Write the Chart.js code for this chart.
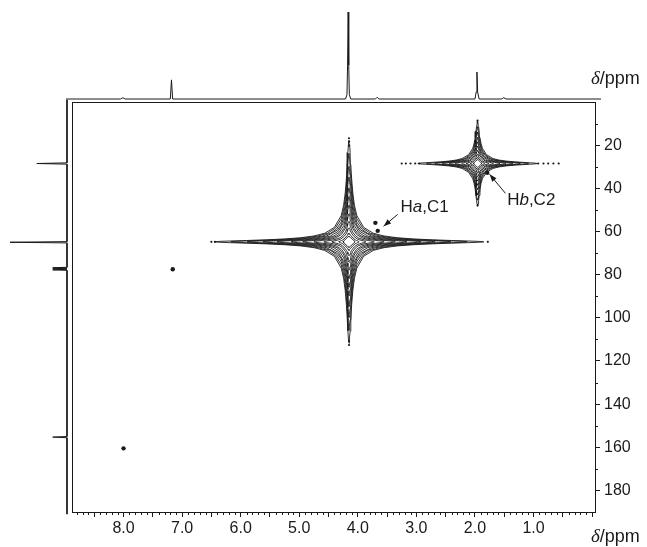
<!DOCTYPE html>
<html>
<head>
<meta charset="utf-8">
<script src="https://cdn.jsdelivr.net/npm/chart.js@4.4.1/dist/chart.umd.min.js"></script>
<style>
  body { margin: 0; background: #fff; }
  #wrap { position: relative; width: 647px; height: 547px; }
  #wrap canvas { position: absolute; left: 0; top: 0; }
</style>
</head>
<body>
<div id="wrap">
  <canvas id="main_canvas" width="647" height="547"></canvas>
  <canvas id="top_canvas" width="647" height="102"></canvas>
  <canvas id="left_canvas" width="72" height="547"></canvas>
</div>
<script>
// 1H projection (top): [ppm, relative intensity]
var proton_trace = [
  [8.97, 0], [8.04, 0], [8.0, 0.015], [7.96, 0],
  [7.19, 0], [7.17, 0.22], [7.15, 0],
  [4.20, 0], [4.175, 0.05], [4.165, 0.39], [4.155, 1.0], [4.145, 0.39], [4.135, 0.05], [4.11, 0],
  [3.69, 0], [3.66, 0.02], [3.63, 0],
  [1.99, 0], [1.97, 0.08], [1.957, 0.31], [1.945, 0.08], [1.92, 0],
  [1.54, 0], [1.50, 0.015], [1.46, 0], [-0.16, 0]
];
// 13C projection (left): [ppm, relative intensity]
var carbon_trace = [
  [-1, 0], [28.2, 0], [28.5, 0.53], [28.8, 0],
  [64.7, 0], [65.0, 1.0], [65.3, 0],
  [76.6, 0], [76.8, 0.25], [77.0, 0], [77.3, 0.25], [77.5, 0], [77.8, 0.25], [78.0, 0],
  [155.0, 0], [155.3, 0.25], [155.6, 0], [191, 0]
];

// cross peak H 4.15 / C 64.8: contour levels outer -> inner (half lengths in ppm)
var peak1_center = [4.15, 64.8];
var peak1_tipH = [2.30, 2.02, 1.74, 1.47, 1.23, 0.99, 0.79, 0.60, 0.43, 0.29, 0.17, 0.10];
var peak1_tipC = [47, 41, 35, 30, 25, 21, 17, 13, 9.5, 6.5, 4.0, 2.6];
var peak1_shoulderH = [0.25, 0.235, 0.215, 0.20, 0.182, 0.165, 0.145, 0.127, 0.107, 0.088, 0.067, 0.054];
var peak1_shoulderC = [6.7, 6.3, 5.9, 5.4, 4.9, 4.4, 4.0, 3.5, 2.9, 2.4, 1.8, 1.4];

// cross peak H 1.95 / C 28.5
var peak2_center = [1.955, 28.5];
var peak2_tipH = [1.02, 0.87, 0.73, 0.60, 0.48, 0.38, 0.27, 0.19, 0.12, 0.07];
var peak2_tipC = [19.5, 17, 14.5, 12, 10, 8, 6, 4.3, 2.8, 1.8];
var peak2_shoulderH = [0.152, 0.139, 0.130, 0.116, 0.104, 0.092, 0.078, 0.064, 0.050, 0.038];
var peak2_shoulderC = [4.1, 3.8, 3.6, 3.1, 2.9, 2.5, 2.2, 1.7, 1.4, 1.0];

// loose contour fragments and weak cross peaks
var fragment_dots = [
  [6.50, 64.8], [6.44, 64.8], [1.78, 64.8],
  [4.15, 16.8], [4.15, 18.4], [4.15, 20.2], [4.15, 110.6], [4.15, 112.6],
  [3.25, 28.5], [3.18, 28.5], [3.10, 28.5], [3.02, 28.5], [2.95, 28.5],
  [0.92, 28.5], [0.83, 28.5], [0.75, 28.5], [0.66, 28.5], [0.57, 28.5],
  [1.955, 8.6], [1.955, 48.0]
];
var weak_peaks = [[7.16, 77.5], [8.0, 160.5], [3.70, 56.0], [3.66, 59.7], [1.79, 32.8]];

var x_ticks = [0, 0.5, 1, 1.5, 2, 2.5, 3, 3.5, 4, 4.5, 5, 5.5, 6, 6.5, 7, 7.5, 8, 8.5];
var y_ticks = [20, 40, 60, 80, 100, 120, 140, 160, 180];

var FONT = "'Liberation Sans', Arial, sans-serif";
var INK = '#1a1a1a';
var ARM_STEPS = [0.96, 0.88, 0.76, 0.62, 0.48, 0.36, 0.26, 0.18];

// one quadrant of a star-shaped contour: from the H tip, along the arm, round the shoulder, up the C arm
function quadrant(hx, vy, sh, sc) {
  var q = [[hx, 0]];
  ARM_STEPS.forEach(function (f) {
    var d = f * hx;
    if (d > 1.4 * sh) q.push([d, sc * sh / d * Math.sqrt(1 - f * f)]);
  });
  q.push([sh, sc]);
  ARM_STEPS.slice().reverse().forEach(function (f) {
    var d = f * vy;
    if (d > 1.4 * sc) q.push([sh * sc / d * Math.sqrt(1 - f * f), d]);
  });
  q.push([0, vy]);
  return q;
}

function contour_sets(c, tipH, tipC, shH, shC) {
  var sets = [];
  for (var i = 0; i < tipH.length; i++) {
    var q = quadrant(tipH[i], tipC[i], shH[i], shC[i]);
    var pts = [];
    q.forEach(function (p) { pts.push([p[0], p[1]]); });
    q.slice().reverse().forEach(function (p) { pts.push([-p[0], p[1]]); });
    q.forEach(function (p) { pts.push([-p[0], -p[1]]); });
    q.slice().reverse().forEach(function (p) { pts.push([p[0], -p[1]]); });
    sets.push({
      data: pts.map(function (p) { return { x: c[0] + p[0], y: c[1] + p[1] }; }),
      showLine: true, borderColor: INK, borderWidth: 0.9, pointRadius: 0, tension: 0, fill: false
    });
  }
  return sets;
}

function to_xy(arr) { return arr.map(function (p) { return { x: p[0], y: p[1] }; }); }

function draw_label(ctx, x, y, parts) {
  ctx.textBaseline = 'middle';
  ctx.textAlign = 'left';
  for (var i = 0; i < parts.length; i++) {
    ctx.font = parts[i][1];
    ctx.fillText(parts[i][0], x, y);
    x += ctx.measureText(parts[i][0]).width;
  }
}

function arrow(ctx, x0, y0, x1, y1) {
  ctx.beginPath();
  ctx.moveTo(x0, y0);
  ctx.lineTo(x1, y1);
  ctx.stroke();
  var a = Math.atan2(y1 - y0, x1 - x0);
  ctx.beginPath();
  ctx.moveTo(x1, y1);
  ctx.lineTo(x1 - 8 * Math.cos(a - 0.35), y1 - 8 * Math.sin(a - 0.35));
  ctx.lineTo(x1 - 8 * Math.cos(a + 0.35), y1 - 8 * Math.sin(a + 0.35));
  ctx.closePath();
  ctx.fill();
}

var extras = {
  id: 'extras',
  afterDraw: function (chart) {
    var ctx = chart.ctx, ca = chart.chartArea;
    var sx = chart.scales.x, sy = chart.scales.y;
    ctx.save();
    ctx.strokeStyle = INK;
    ctx.fillStyle = INK;
    ctx.lineWidth = 1;
    ctx.strokeRect(ca.left + 0.5, ca.top + 0.5, ca.right - ca.left, ca.bottom - ca.top);
    // minor ticks
    ctx.beginPath();
    for (var k = 1; k < 89; k++) {
      if (k % 5 === 0) continue;
      var px = Math.round(sx.getPixelForValue(k / 10)) + 0.5;
      ctx.moveTo(px, ca.bottom); ctx.lineTo(px, ca.bottom + 3);
    }
    for (var m = 10; m < 190; m += 20) {
      var py = Math.round(sy.getPixelForValue(m)) + 0.5;
      ctx.moveTo(ca.right, py); ctx.lineTo(ca.right + 3, py);
    }
    ctx.stroke();
    // annotations
    draw_label(ctx, sx.getPixelForValue(3.27), sy.getPixelForValue(48.9),
      [['H', '17px ' + FONT], ['a', 'italic 17px ' + FONT], [',C1', '17px ' + FONT]]);
    draw_label(ctx, sx.getPixelForValue(1.45), sy.getPixelForValue(45.5),
      [['H', '17px ' + FONT], ['b', 'italic 17px ' + FONT], [',C2', '17px ' + FONT]]);
    ctx.lineWidth = 1;
    arrow(ctx, sx.getPixelForValue(3.32), sy.getPixelForValue(52.1), sx.getPixelForValue(3.56), sy.getPixelForValue(57.6));
    arrow(ctx, sx.getPixelForValue(1.48), sy.getPixelForValue(42.3), sx.getPixelForValue(1.75), sy.getPixelForValue(33.5));
    // axis titles
    var unit = [['\u03B4', 'italic 19px "Liberation Serif", serif'], ['/ppm', '18px ' + FONT]];
    draw_label(ctx, 591, 537, unit);
    draw_label(ctx, 591, 79, unit);
    ctx.restore();
  }
};

var main_sets = []
  .concat(contour_sets(peak1_center, peak1_tipH, peak1_tipC, peak1_shoulderH, peak1_shoulderC))
  .concat(contour_sets(peak2_center, peak2_tipH, peak2_tipC, peak2_shoulderH, peak2_shoulderC));
main_sets.push({ data: to_xy(fragment_dots), pointRadius: 1.1, pointBorderWidth: 0, backgroundColor: INK });
main_sets.push({ data: to_xy(weak_peaks), pointRadius: 2.2, pointBorderWidth: 0, backgroundColor: INK });

new Chart(document.getElementById('main_canvas'), {
  type: 'scatter',
  data: { datasets: main_sets },
  options: {
    responsive: false,
    animation: false,
    layout: { padding: { left: 72, top: 102, right: 0, bottom: 0 } },
    plugins: { legend: { display: false }, tooltip: { enabled: false } },
    scales: {
      x: {
        type: 'linear', position: 'bottom', min: -0.05, max: 8.88, reverse: true,
        afterBuildTicks: function (s) { s.ticks = x_ticks.map(function (v) { return { value: v }; }); },
        afterFit: function (s) { s.height = 35; },
        ticks: {
          autoSkip: false, maxRotation: 0, padding: 2, color: INK, font: { family: FONT, size: 16 },
          callback: function (v) { return (v >= 1 && Math.abs(v - Math.round(v)) < 1e-6) ? v.toFixed(1) : ''; }
        },
        grid: { drawOnChartArea: false, tickLength: 5, color: INK },
        border: { color: INK }
      },
      y: {
        type: 'linear', position: 'right', min: 0, max: 190, reverse: true,
        afterBuildTicks: function (s) { s.ticks = y_ticks.map(function (v) { return { value: v }; }); },
        afterFit: function (s) { s.width = 52; },
        ticks: { autoSkip: false, padding: 4, color: INK, font: { family: FONT, size: 16 } },
        grid: { drawOnChartArea: false, tickLength: 5, color: INK },
        border: { color: INK }
      }
    }
  },
  plugins: [extras]
});

new Chart(document.getElementById('top_canvas'), {
  type: 'scatter',
  data: { datasets: [{ data: to_xy(proton_trace), showLine: true, borderColor: INK, borderWidth: 1, pointRadius: 0, clip: false }] },
  options: {
    responsive: false,
    animation: false,
    layout: { padding: { left: 66, right: 46, top: 12, bottom: 3 } },
    plugins: { legend: { display: false }, tooltip: { enabled: false } },
    scales: {
      x: { type: 'linear', display: false, min: -0.16, max: 8.97, reverse: true },
      y: { type: 'linear', display: false, min: 0, max: 1 }
    }
  }
});

new Chart(document.getElementById('left_canvas'), {
  type: 'scatter',
  data: { datasets: [{ data: carbon_trace.map(function (p) { return { x: p[1], y: p[0] }; }), showLine: true, borderColor: INK, borderWidth: 1, pointRadius: 0, clip: false }] },
  options: {
    responsive: false,
    animation: false,
    layout: { padding: { left: 10, right: 5, top: 102, bottom: 35 } },
    plugins: { legend: { display: false }, tooltip: { enabled: false } },
    scales: {
      x: { type: 'linear', display: false, min: 0, max: 1, reverse: true },
      y: { type: 'linear', display: false, min: 0, max: 190, reverse: true }
    }
  }
});
</script>
</body>
</html>
